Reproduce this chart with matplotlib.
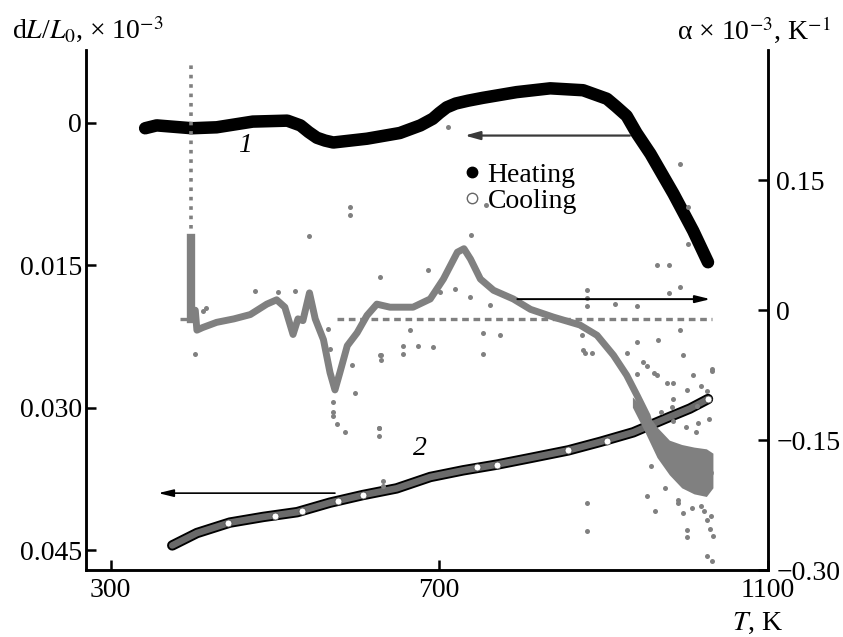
import matplotlib
matplotlib.use("Agg")
import matplotlib.pyplot as plt
from matplotlib.lines import Line2D

plt.rcParams["font.family"] = ["Liberation Serif", "DejaVu Serif"]
plt.rcParams["mathtext.fontset"] = "stix"

# curve 1: heating, dL/L0 (left axis, inverted)
heat_T = [342, 356, 399, 429, 473, 515, 531, 541, 551, 561, 571, 612, 652, 677, 692,
          700, 709, 720, 735, 753, 794, 835, 875, 904, 915, 928, 940, 957, 985, 1009, 1027]
heat_dL = [0.0006, 0.0003, 0.0006, 0.0005, -0.0001, -0.0002, 0.0003, 0.0010, 0.0016,
           0.0019, 0.0021, 0.0017, 0.0011, 0.0003, -0.0004, -0.0010, -0.0016, -0.0020,
           -0.0023, -0.0026, -0.0032, -0.0036, -0.0034, -0.0025, -0.0017, -0.0007,
           0.0011, 0.0033, 0.0075, 0.0114, 0.0147]

# curve 2: cooling, dL/L0
cool_T = [375, 405, 445, 486, 527, 567, 607, 648, 689, 729, 770, 811, 857, 896,
          936, 977, 1005, 1027]
cool_dL = [0.0445, 0.0432, 0.0421, 0.0415, 0.0410, 0.0400, 0.0392, 0.0385, 0.0373,
           0.0366, 0.0360, 0.0353, 0.0345, 0.0336, 0.0326, 0.0311, 0.0301, 0.0291]
cool_open_T = [443, 500, 533, 577, 607, 746, 770, 857, 904, 1027]
cool_open_dL = [0.0421, 0.0414, 0.0409, 0.0398, 0.0392, 0.0363, 0.0360, 0.0345, 0.0335, 0.0291]

# thermal expansion coefficient alpha (right axis), main trend
alpha_T = [403, 405, 412, 429, 450, 470, 490, 502, 512, 522, 528, 534, 542, 549, 559,
           567, 573, 579, 588, 600, 612, 624, 640, 668, 689, 705, 722, 730, 738, 750,
           766, 790, 811, 839, 871, 892, 912, 928, 941, 953, 961, 977, 997, 1017, 1030]
alpha_val = [0.0, -0.023, -0.02, -0.014, -0.010, -0.005, 0.007, 0.012, 0.0035, -0.028,
             -0.010, -0.012, 0.020, -0.010, -0.034, -0.072, -0.092, -0.072, -0.041,
             -0.026, -0.006, 0.007, 0.0035, 0.0035, 0.013, 0.036, 0.067, 0.071, 0.059,
             0.036, 0.023, 0.013, 0.001, -0.008, -0.017, -0.029, -0.052, -0.075, -0.099,
             -0.122, -0.15, -0.165, -0.176, -0.184, -0.188]

# dense cloud at high T
cloud_T = [935, 950, 965, 980, 995, 1010, 1025, 1033]
cloud_hi = [-0.100, -0.115, -0.135, -0.150, -0.155, -0.158, -0.160, -0.165]
cloud_lo = [-0.112, -0.140, -0.170, -0.190, -0.205, -0.212, -0.215, -0.205]

# spike near 398 K
spike_T = 398
spike_dense = [-0.010, 0.083]
spike_sparse = [0.083, 0.288]

# baseline row of points
base_start = [385, 575]
base_end = [402, 1032]
base_alpha = -0.0104

# scattered points
out_T = [738, 686, 880, 880, 880, 914, 941, 965, 980, 993, 980, 993, 966, 996, 941,
         753, 753, 774, 656, 656, 692, 674, 664, 628, 1032, 875, 965, 985, 1009, 953,
         585, 591, 591, 403, 476, 504, 524, 542, 628, 629, 629, 627, 576, 571, 598,
         594, 416, 412, 565, 567, 571, 571, 626, 626, 632, 632, 880, 880, 963, 1002,
         1002, 1026, 1032, 1030, 953, 711, 993, 1003, 757, 1003, 941, 961, 977, 1002,
         1018, 1026, 985, 1014, 1032, 948, 929, 877, 886, 874, 990, 996, 1018, 1026,
         1033, 701, 719, 737, 762, 970, 985, 1000, 1015, 1028, 975, 990, 1008, 1022,
         958, 1031, 1012, 983]
out_alpha = [0.087, 0.046, 0.023, 0.014, 0.005, 0.007, 0.005, 0.052, 0.052, 0.027,
             0.020, -0.023, -0.034, -0.052, -0.037, -0.026, -0.051, -0.029, -0.041,
             -0.051, -0.043, -0.041, -0.023, -0.052, -0.068, -0.046, -0.075, -0.084,
             -0.075, -0.064, -0.141, 0.119, 0.110, -0.051, 0.022, 0.021, 0.022, 0.086,
             0.038, -0.052, -0.057, -0.136, -0.131, -0.122, -0.095, -0.063, 0.002,
             -0.001, -0.022, -0.045, -0.106, -0.118, -0.136, -0.145, -0.197, -0.203,
             -0.223, -0.255, -0.232, -0.254, -0.262, -0.284, -0.290, -0.252, -0.215,
             0.211, 0.169, 0.119, 0.122, 0.077, -0.074, -0.072, -0.084, -0.092, -0.087,
             -0.093, -0.103, -0.110, -0.070, -0.060, -0.049, -0.049, -0.049, -0.029,
             -0.219, -0.234, -0.226, -0.242, -0.261, 0.021, 0.024, 0.015, 0.006,
             -0.118, -0.128, -0.135, -0.130, -0.125, -0.205, -0.222, -0.228, -0.232,
             -0.180, -0.238, -0.140, -0.112]

left_ticks = [0, 0.015, 0.030, 0.045]
left_labels = ["0", "0.015", "0.030", "0.045"]
right_ticks = [0.15, 0, -0.15, -0.30]
right_labels = ["0.15", "0", "\u22120.15", "\u22120.30"]
x_ticks = [300, 700, 1100]

gray = "#808080"
fs = 20

fig = plt.figure(figsize=(8.43, 6.37), dpi=100)
ax = fig.add_axes([0.102, 0.105, 0.809, 0.816])
ax2 = ax.twinx()

# dL/L0 curves
ax.plot(heat_T, heat_dL, color="black", lw=9, solid_capstyle="round", solid_joinstyle="round")
ax.plot(cool_T, cool_dL, color="black", lw=7.5, solid_capstyle="round")
ax.plot(cool_T, cool_dL, color="#6a6a6a", lw=4.8, solid_capstyle="round")
ax.plot(cool_open_T, cool_open_dL, ls="", marker="o", ms=5, mfc="white", mec="#555555", mew=0.6)

# alpha
ax2.plot(alpha_T, alpha_val, color=gray, lw=5, solid_joinstyle="round", solid_capstyle="round")
ax2.fill_between(cloud_T, cloud_lo, cloud_hi, color=gray, lw=0)
ax2.plot([spike_T, spike_T], spike_dense, color=gray, lw=6)
ax2.plot([spike_T, spike_T], spike_sparse, color=gray, lw=2.6, ls=(0, (1, 1.6)))
for s, e in zip(base_start, base_end):
    ax2.plot([s, e], [base_alpha, base_alpha], color=gray, lw=2.4, ls=(0, (2, 1.4)))
ax2.plot(out_T, out_alpha, ls="", marker="o", ms=3.6, color=gray, mew=0)

# arrows
ax.annotate("", xy=(731, 0.00137), xytext=(932, 0.00137),
            arrowprops=dict(arrowstyle="-|>,head_length=0.9,head_width=0.25",
                            color="#3a3a3a", lw=1.6, shrinkA=0, shrinkB=0))
ax.annotate("", xy=(358, 0.039), xytext=(573, 0.039),
            arrowprops=dict(arrowstyle="-|>,head_length=0.9,head_width=0.22",
                            color="black", lw=1.2, shrinkA=0, shrinkB=0))
ax2.annotate("", xy=(1030, 0.0128), xytext=(795, 0.0128),
             arrowprops=dict(arrowstyle="-|>,head_length=0.9,head_width=0.22",
                             color="black", lw=1.4, shrinkA=0, shrinkB=0))

ax.text(464, 0.0024, "1", fontsize=20, style="italic", ha="center", va="center")
ax.text(677, 0.0343, "2", fontsize=20, style="italic", ha="center", va="center")

handles = [Line2D([], [], ls="", marker="o", ms=7.5, color="black"),
           Line2D([], [], ls="", marker="o", ms=7.5, mfc="white", mec="#666666", mew=1)]
ax2.legend(handles, ["Heating", "Cooling"], loc="center left", bbox_to_anchor=(0.554, 0.735),
           frameon=False, fontsize=20, handlelength=0.6, handletextpad=0.25,
           borderpad=0, labelspacing=0.0, borderaxespad=0)

# axes
ax.set_xlim(270, 1100)
ax.set_ylim(0.0471, -0.0076)
ax2.set_ylim(-0.30, 0.30)
ax.set_xticks(x_ticks)
ax.set_xticklabels([str(t) for t in x_ticks], fontsize=fs)
ax.set_yticks(left_ticks)
ax.set_yticklabels(left_labels, fontsize=fs)
ax2.set_yticks(right_ticks)
ax2.set_yticklabels(right_labels, fontsize=fs)

for a in (ax, ax2):
    a.spines["top"].set_visible(False)
    for sp in a.spines.values():
        sp.set_linewidth(1.8)
    a.tick_params(direction="in", length=7, width=1.8, pad=6)
ax.tick_params(axis="y", pad=3)
ax.tick_params(axis="x", pad=6)

fig.text(0.014, 0.953, "d$L$/$L_0$, \u00d7 10$^{-3}$", fontsize=fs, ha="left", va="center")
fig.text(0.985, 0.953, "\u03b1 \u00d7 10$^{-3}$, K$^{-1}$", fontsize=fs, ha="right", va="center")
fig.text(0.899, 0.022, "$T$, K", fontsize=fs, ha="center", va="center")

fig.savefig("out.png", dpi=100)
